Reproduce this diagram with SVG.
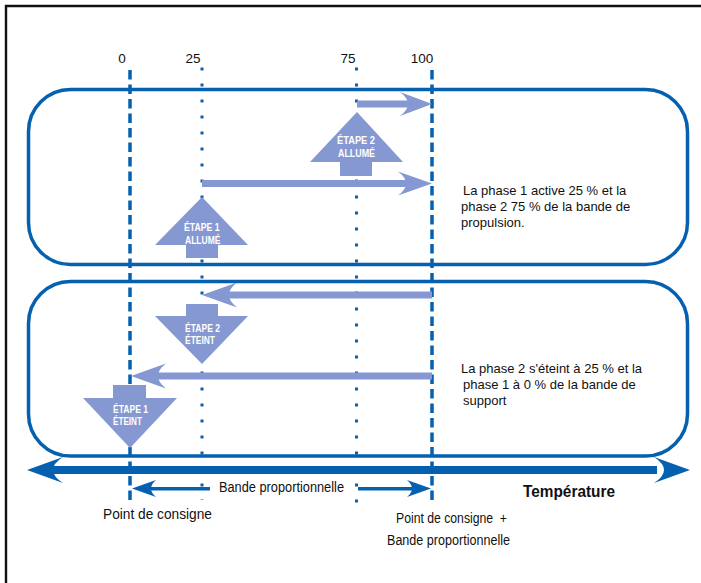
<svg xmlns="http://www.w3.org/2000/svg" width="701" height="583" viewBox="0 0 701 583">
  <style>
    .frame { fill: none; stroke: #111; stroke-width: 2.4; }
    .band { fill: none; stroke: #0561AF; stroke-width: 3.5; }
    .dash { fill: none; stroke: #0561AF; stroke-width: 3.5; stroke-dasharray: 9.5 5; }
    .dot { fill: none; stroke: #0561AF; stroke-width: 3; stroke-dasharray: 3 13; }
    .lt { fill: #8598D1; }
    .dk { fill: #0561AF; }
    .lbl { font-family: "Liberation Sans", Arial, sans-serif; fill: #111; }
    .tick { font-size: 13.5px; text-anchor: middle; }
    .note { font-size: 13px; }
    .axis { font-size: 14px; }
    .step { font-family: "Liberation Sans", Arial, sans-serif; font-weight: bold; font-size: 10.5px; fill: #fff; }
  </style>

  <!-- outer frame (top and left edges) -->
  <path id="frame" class="frame" d="M6,583 V6 H701"/>

  <!-- rounded bands -->
  <g id="band-on">
    <rect class="band" x="28.5" y="89.5" width="659" height="175" rx="42" ry="42"/>
    <g class="lbl note">
      <text x="463" y="195">La phase 1 active 25 % et la</text>
      <text x="461" y="211">phase 2 75 % de la bande de</text>
      <text x="461" y="227">propulsion.</text>
    </g>
  </g>
  <g id="band-off">
    <rect class="band" x="28.5" y="281.5" width="659" height="174.5" rx="42" ry="42"/>
    <g class="lbl note">
      <text x="461" y="373">La phase 2 s'éteint à 25 % et la</text>
      <text x="463" y="389">phase 1 à 0 % de la bande de</text>
      <text x="463" y="405">support</text>
    </g>
  </g>

  <!-- scale labels -->
  <g id="scale-labels" class="lbl tick">
    <text x="122" y="63">0</text>
    <text x="193" y="63">25</text>
    <text x="348" y="63">75</text>
    <text x="422" y="63">100</text>
  </g>

  <g id="connectors">
    <!-- vertical reference lines -->
    <line class="dash" x1="130" y1="70" x2="130" y2="503"/>
    <line class="dash" x1="432" y1="70" x2="432" y2="503"/>
    <line class="dot" x1="202" y1="67.5" x2="202" y2="500"/>
    <line class="dot" x1="356.5" y1="67.5" x2="356.5" y2="509"/>

    <!-- stage 2 on: 75 -> 100 -->
    <g id="arrow-75-100" class="lt">
      <rect x="357" y="100.5" width="52" height="7"/>
      <path d="M432,104 L400,92 Q416,104 400,116 Z"/>
    </g>
    <!-- stage 1 on: 25 -> 100 -->
    <g id="arrow-25-100" class="lt">
      <rect x="202" y="180" width="205" height="7"/>
      <path d="M432,183.5 L398,171.5 Q414,183.5 398,195.5 Z"/>
    </g>
    <!-- stage 2 off: 100 -> 25 -->
    <g id="arrow-100-25" class="lt">
      <rect x="226" y="291.5" width="206" height="7"/>
      <path d="M202,295 L237,282.5 Q221,295 237,307.5 Z"/>
    </g>
    <!-- stage 1 off: 100 -> 0 -->
    <g id="arrow-100-0" class="lt">
      <rect x="155" y="372.5" width="277" height="7"/>
      <path d="M131,376 L166,363.5 Q150,376 166,388.5 Z"/>
    </g>

    <!-- temperature axis -->
    <g id="temperature-axis" class="dk">
      <rect x="52" y="466" width="605" height="8"/>
      <path d="M27,470 L63,457 Q43,470 63,483 Z"/>
      <path d="M690,470 L654,457 Q674,470 654,483 Z"/>
    </g>

    <!-- proportional band span -->
    <g id="band-span" class="dk">
      <rect x="148" y="487" width="62" height="3.5"/>
      <path d="M132,488.5 L156,480 Q146,488.5 156,497 Z"/>
      <rect x="358" y="487" width="58" height="3.5"/>
      <path d="M431,488.5 L407,480 Q417,488.5 407,497 Z"/>
    </g>
  </g>

  <!-- stage block arrows -->
  <g id="stage2-on">
    <path class="lt" d="M357,112 L403,162 L372,162 L372,176 L340,176 L340,162 L310,162 Z"/>
    <text class="step" x="337" y="144" textLength="38" lengthAdjust="spacingAndGlyphs">ÉTAPE 2</text>
    <text class="step" x="338" y="157" textLength="37" lengthAdjust="spacingAndGlyphs">ALLUMÉ</text>
  </g>
  <g id="stage1-on">
    <path class="lt" d="M202,197 L248,245 L218,245 L218,258 L186,258 L186,245 L155,245 Z"/>
    <text class="step" x="184" y="231" textLength="35.5" lengthAdjust="spacingAndGlyphs">ÉTAPE 1</text>
    <text class="step" x="185" y="244" textLength="35.5" lengthAdjust="spacingAndGlyphs">ALLUMÉ</text>
  </g>
  <g id="stage2-off">
    <path class="lt" d="M186,304 L218,304 L218,316 L248,316 L202,364 L155,316 L186,316 Z"/>
    <text class="step" x="185" y="332" textLength="35" lengthAdjust="spacingAndGlyphs">ÉTAPE 2</text>
    <text class="step" x="185" y="344" textLength="30" lengthAdjust="spacingAndGlyphs">ÉTEINT</text>
  </g>
  <g id="stage1-off">
    <path class="lt" d="M113,385 L146,385 L146,398 L177,398 L130,448 L83,398 L113,398 Z"/>
    <text class="step" x="113" y="413" textLength="35" lengthAdjust="spacingAndGlyphs">ÉTAPE 1</text>
    <text class="step" x="113" y="425" textLength="29" lengthAdjust="spacingAndGlyphs">ÉTEINT</text>
  </g>

  <!-- axis labels -->
  <g id="axis-labels" class="lbl axis">
    <text x="219" y="492" textLength="125" lengthAdjust="spacingAndGlyphs">Bande proportionnelle</text>
    <text x="523" y="497" font-weight="bold" font-size="16" textLength="92" lengthAdjust="spacingAndGlyphs">Température</text>
    <text x="103" y="519" textLength="109" lengthAdjust="spacingAndGlyphs">Point de consigne</text>
    <text x="396" y="523" textLength="111" lengthAdjust="spacingAndGlyphs">Point de consigne&#160; +</text>
    <text x="387" y="545" textLength="123" lengthAdjust="spacingAndGlyphs">Bande proportionnelle</text>
  </g>
</svg>
